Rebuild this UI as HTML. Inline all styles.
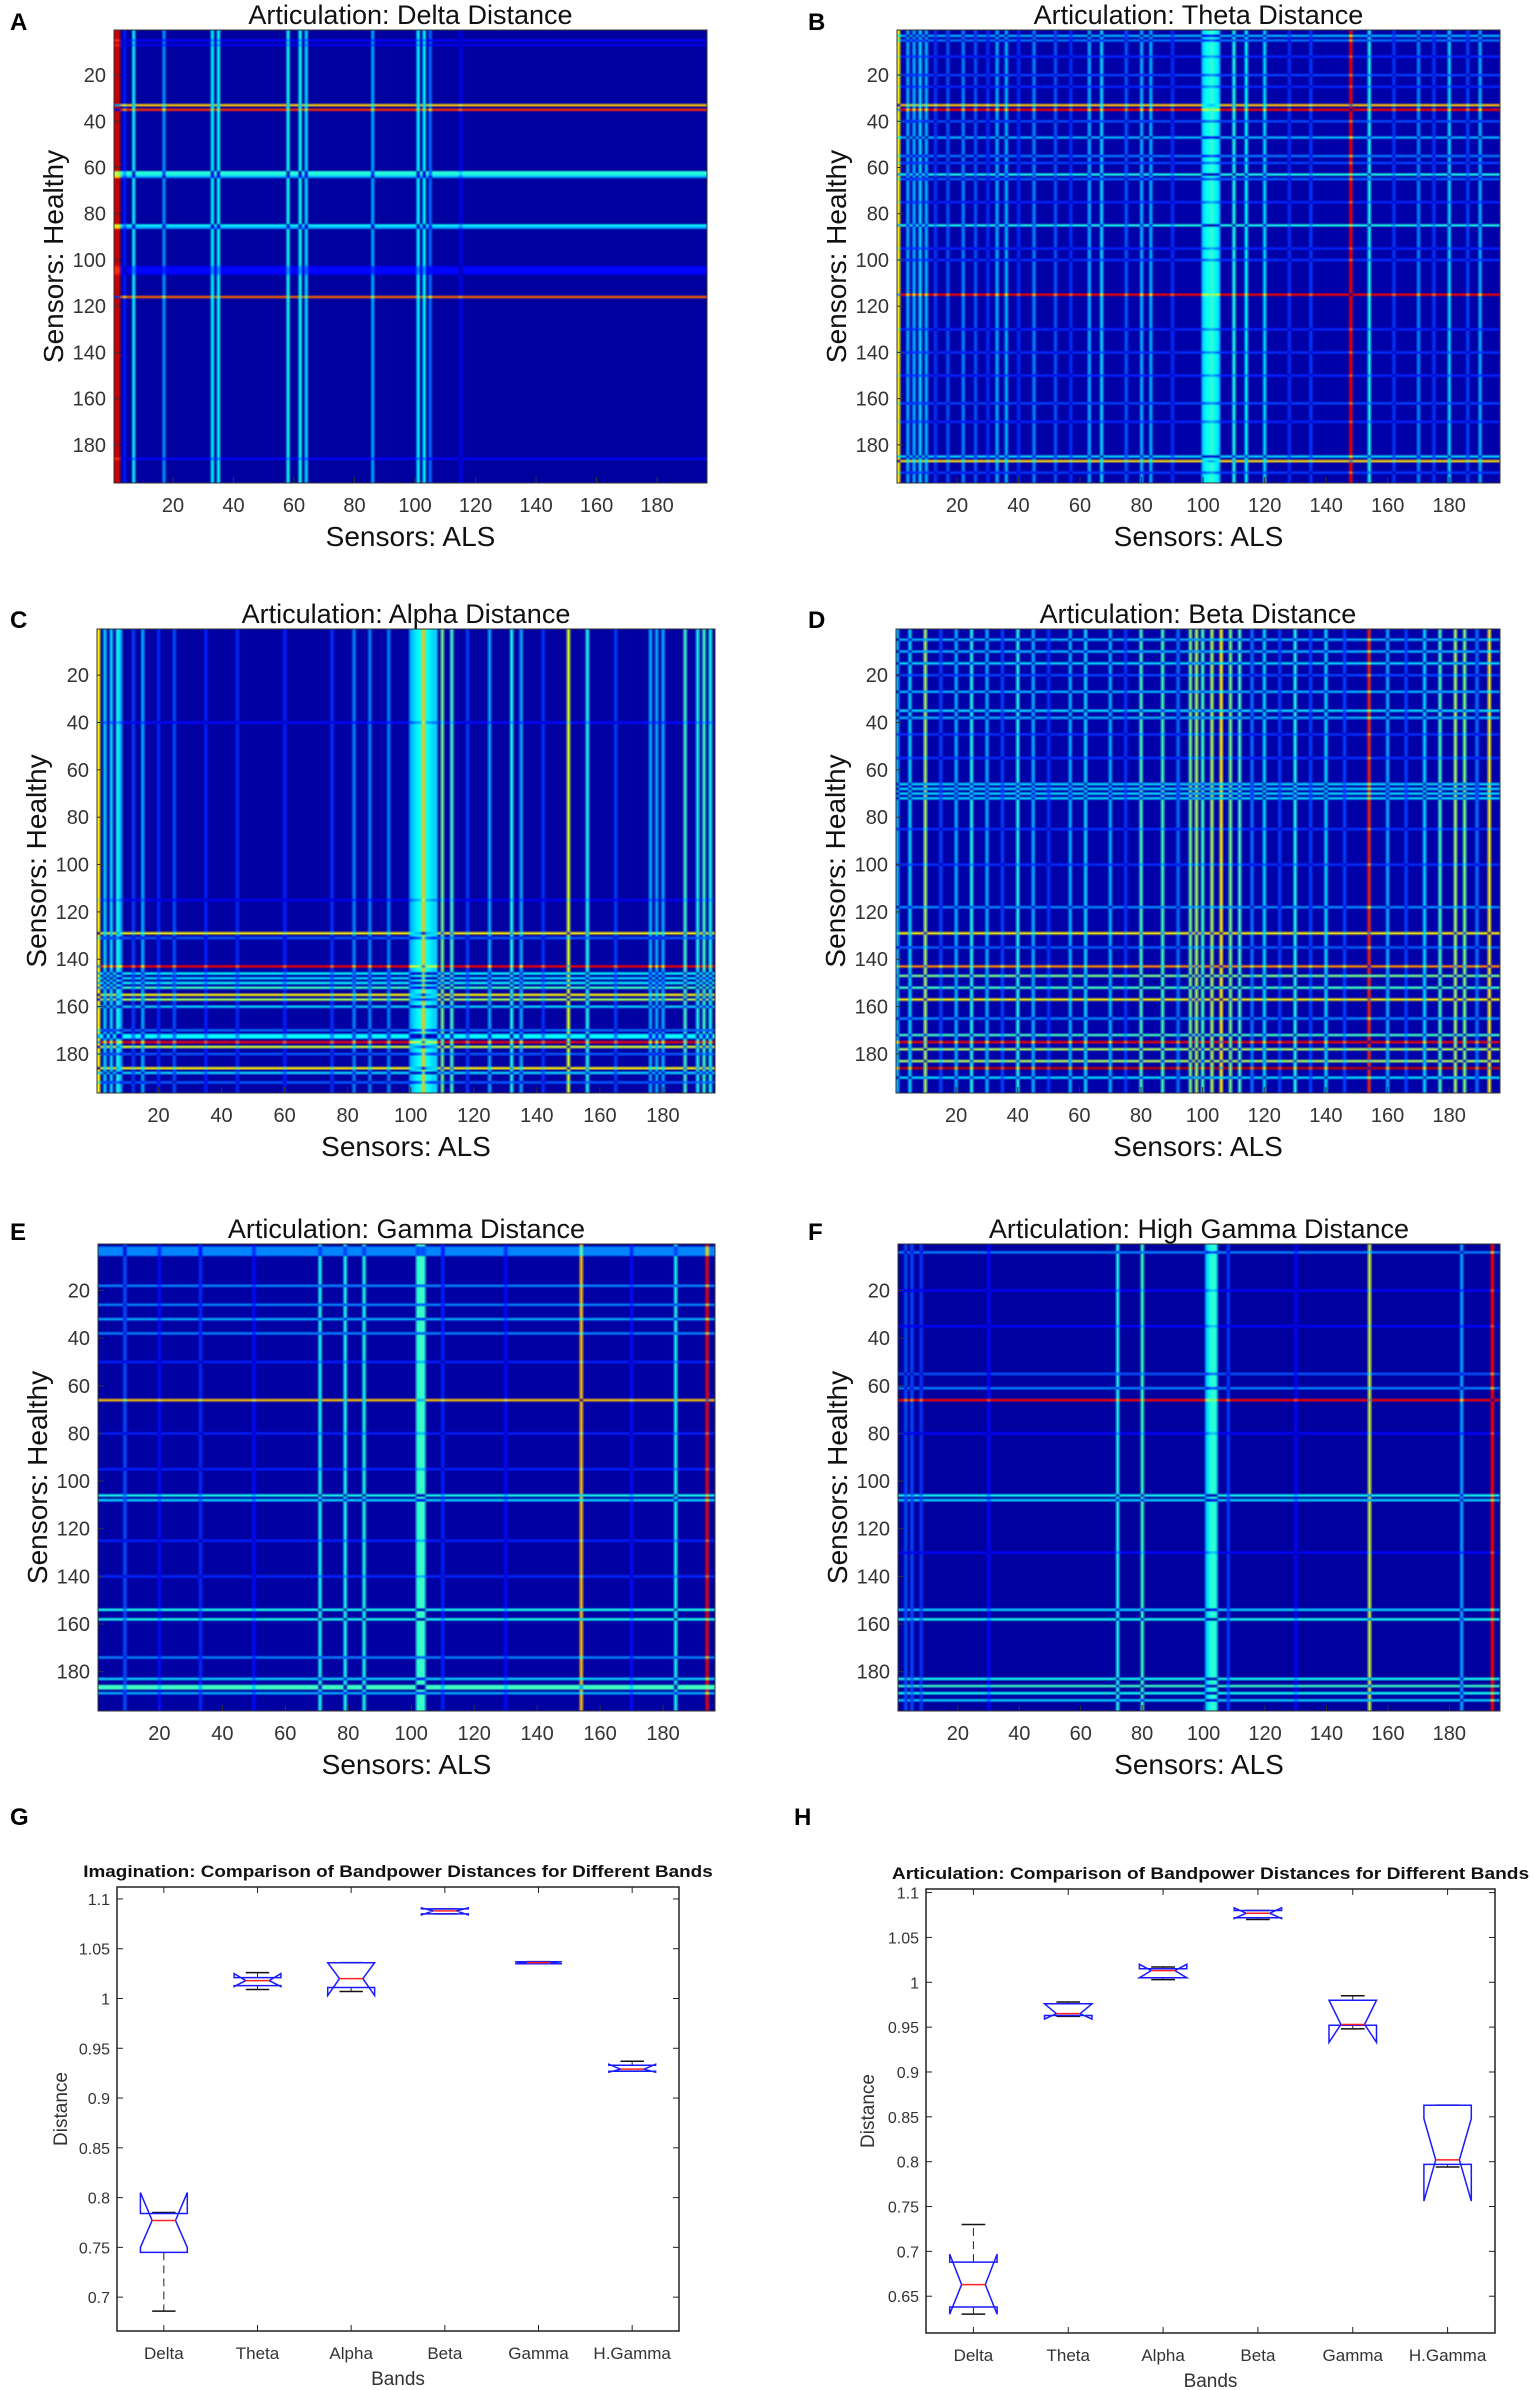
<!DOCTYPE html>
<html><head><meta charset="utf-8">
<style>
html,body{margin:0;padding:0;background:#fff;}
#wrap{position:relative;width:1535px;height:2390px;overflow:hidden;font-family:"Liberation Sans",Arial,sans-serif;}
canvas{position:absolute;}
svg{position:absolute;left:0;top:0;}
</style></head>
<body>
<div id="wrap">
<svg id="svg" width="1535" height="2390"></svg>
</div>
<script>
// ---------- heatmap data (sensor index, distance contribution) ----------
const heatTitles = ["Articulation: Delta Distance","Articulation: Theta Distance","Articulation: Alpha Distance","Articulation: Beta Distance","Articulation: Gamma Distance","Articulation: High Gamma Distance"];
const heatLetters = ["A","B","C","D","E","F"];
const heatBase = [0.03,0.04,0.035,0.04,0.035,0.03];
const deltaRows = [[5,0.1],[7,0.08],[33,0.65],[35,0.8],[62,0.38],[63,0.38],[64,0.26],[85,0.34],[86,0.26],[103,0.08],[104,0.1],[105,0.1],[106,0.08],[116,0.75],[186,0.1]];
const deltaCols = [[1,0.9],[2,0.9],[4,0.12],[7,0.34],[17,0.24],[33,0.34],[35,0.34],[58,0.36],[62,0.36],[64,0.3],[86,0.26],[101,0.34],[103,0.34],[105,0.2],[115,0.08]];
const thetaRows = [[3,0.26],[5,0.2],[12,0.12],[20,0.15],[25,0.12],[33,0.65],[35,0.85],[40,0.16],[47,0.26],[55,0.2],[58,0.15],[63,0.36],[65,0.18],[75,0.12],[85,0.36],[95,0.12],[100,0.13],[115,0.85],[130,0.12],[140,0.13],[150,0.12],[162,0.15],[170,0.12],[185,0.3],[187,0.62],[192,0.14]];
const thetaCols = [[1,0.6],[4,0.26],[6,0.26],[8,0.3],[10,0.26],[13,0.14],[17,0.17],[22,0.22],[26,0.17],[30,0.13],[33,0.26],[36,0.26],[40,0.13],[45,0.22],[52,0.17],[57,0.13],[63,0.26],[67,0.3],[75,0.17],[80,0.26],[83,0.26],[90,0.13],[100,0.3],[101,0.33],[102,0.36],[103,0.38],[104,0.33],[105,0.3],[110,0.36],[114,0.33],[120,0.3],[128,0.13],[135,0.14],[148,0.85],[154,0.35],[162,0.14],[170,0.22],[175,0.14],[180,0.3],[186,0.15],[190,0.26]];
const alphaRows = [[40,0.1],[115,0.08],[129,0.6],[131,0.18],[143,0.85],[146,0.34],[148,0.3],[150,0.34],[152,0.4],[155,0.6],[157,0.5],[160,0.3],[170,0.2],[172,0.34],[173,0.34],[175,0.85],[177,0.55],[180,0.18],[186,0.6],[188,0.3],[192,0.18]];
const alphaCols = [[1,0.6],[3,0.3],[5,0.3],[7,0.36],[8,0.26],[12,0.15],[15,0.26],[20,0.13],[25,0.17],[35,0.12],[45,0.13],[60,0.12],[75,0.14],[82,0.22],[87,0.22],[93,0.22],[100,0.26],[101,0.3],[102,0.33],[103,0.36],[104,0.65],[105,0.36],[106,0.33],[107,0.3],[108,0.3],[110,0.45],[113,0.4],[118,0.15],[125,0.26],[132,0.36],[135,0.26],[142,0.14],[150,0.55],[156,0.36],[165,0.15],[176,0.26],[178,0.26],[180,0.26],[187,0.4],[191,0.36],[193,0.4],[195,0.36]];
const betaRows = [[5,0.26],[10,0.26],[15,0.3],[20,0.15],[27,0.26],[35,0.3],[38,0.26],[45,0.13],[55,0.13],[66,0.3],[68,0.3],[70,0.3],[72,0.3],[85,0.13],[100,0.13],[118,0.22],[129,0.6],[135,0.18],[143,0.7],[147,0.45],[152,0.4],[157,0.6],[165,0.22],[172,0.4],[175,0.85],[178,0.5],[183,0.5],[186,0.9],[190,0.3]];
const betaCols = [[1,0.26],[5,0.3],[10,0.5],[15,0.15],[20,0.26],[25,0.36],[30,0.26],[35,0.15],[40,0.36],[45,0.26],[50,0.14],[57,0.26],[62,0.3],[70,0.26],[75,0.14],[80,0.4],[87,0.4],[92,0.2],[96,0.45],[98,0.5],[100,0.4],[103,0.5],[106,0.6],[109,0.45],[112,0.4],[116,0.2],[120,0.3],[125,0.15],[130,0.36],[135,0.15],[140,0.3],[146,0.15],[154,0.8],[160,0.26],[166,0.15],[172,0.3],[177,0.4],[182,0.5],[185,0.45],[189,0.2],[193,0.6]];
const gammaRows = [[2,0.22],[3,0.22],[4,0.22],[5,0.22],[18,0.22],[26,0.22],[32,0.26],[38,0.22],[50,0.12],[66,0.65],[80,0.12],[95,0.12],[106,0.36],[108,0.3],[125,0.12],[140,0.13],[154,0.36],[158,0.36],[174,0.22],[183,0.3],[186,0.4],[187,0.4],[189,0.26]];
const gammaCols = [[9,0.17],[20,0.1],[33,0.13],[50,0.1],[71,0.36],[79,0.36],[85,0.36],[102,0.38],[103,0.4],[104,0.38],[110,0.12],[130,0.1],[154,0.65],[170,0.1],[184,0.36],[194,0.85]];
const hgammaRows = [[4,0.22],[20,0.1],[35,0.1],[55,0.18],[61,0.22],[66,0.85],[80,0.1],[106,0.36],[108,0.3],[130,0.1],[154,0.3],[158,0.36],[183,0.36],[186,0.4],[189,0.36],[192,0.3]];
const hgammaCols = [[3,0.17],[5,0.17],[8,0.15],[30,0.1],[72,0.36],[80,0.4],[101,0.3],[102,0.36],[103,0.4],[104,0.36],[108,0.15],[130,0.1],[154,0.55],[184,0.26],[194,0.85]];
const heatRowSets = [deltaRows,thetaRows,alphaRows,betaRows,gammaRows,hgammaRows];
const heatColSets = [deltaCols,thetaCols,alphaCols,betaCols,gammaCols,hgammaCols];
const sensorTicks = [20,40,60,80,100,120,140,160,180];

// ---------- boxplot data ----------
const bandNames = ["Delta","Theta","Alpha","Beta","Gamma","H.Gamma"];
const imgQ1  = [0.745,1.013,1.011,1.085,1.035,0.927];
const imgQ3  = [0.784,1.021,1.036,1.090,1.037,0.933];
const imgMed = [0.777,1.018,1.020,1.088,1.036,0.929];
const imgNlo = [0.750,1.012,1.003,1.084,1.035,0.926];
const imgNhi = [0.805,1.025,1.036,1.091,1.037,0.934];
const imgWlo = [0.686,1.009,1.007,1.085,1.035,0.927];
const imgWhi = [0.785,1.026,1.036,1.090,1.037,0.937];
const artQ1  = [0.638,0.963,1.005,1.072,0.952,0.797];
const artQ3  = [0.688,0.976,1.015,1.080,0.980,0.863];
const artMed = [0.663,0.965,1.013,1.077,0.953,0.802];
const artNlo = [0.630,0.959,1.005,1.071,0.933,0.756];
const artNhi = [0.697,0.976,1.020,1.083,0.980,0.848];
const artWlo = [0.630,0.962,1.003,1.070,0.948,0.794];
const artWhi = [0.730,0.978,1.017,1.080,0.985,0.863];
const imgTicks = [0.7,0.75,0.8,0.85,0.9,0.95,1,1.05,1.1];
const artTicks = [0.65,0.7,0.75,0.8,0.85,0.9,0.95,1,1.05,1.1];

const NS="http://www.w3.org/2000/svg";
const svg=document.getElementById('svg');
const wrap=document.getElementById('wrap');
function mk(tag,attrs,parent){const e=document.createElementNS(NS,tag);for(const k in attrs)e.setAttribute(k,attrs[k]);(parent||svg).appendChild(e);return e;}
function txt(s,attrs,parent){const e=mk('text',attrs,parent);e.textContent=s;return e;}
function jet(v){v=Math.max(0,Math.min(1,v));const c=x=>Math.round(255*Math.max(0,Math.min(1,x)));return [c(1.5-Math.abs(4*v-3)),c(1.5-Math.abs(4*v-2)),c(1.5-Math.abs(4*v-1))];}

const heatRects=[[114,30,593,453],[897,30,603,453],[97,629,618,464],[896,629,604,464],[98,1244,617,467],[898,1244,602,467]];
const letterPos=[[10,30],[808,30],[10,628],[808,628],[10,1240],[808,1240]];
const N=196;
for(let p=0;p<6;p++){
  const [L,T,W,H]=heatRects[p];
  const h=new Array(N+1).fill(0), a=new Array(N+1).fill(0);
  heatRowSets[p].forEach(([i,v])=>{h[i]=v;});
  heatColSets[p].forEach(([j,v])=>{a[j]=v;});
  const cv=document.createElement('canvas');cv.width=N;cv.height=N;
  cv.style.left=L+'px';cv.style.top=T+'px';cv.style.width=W+'px';cv.style.height=H+'px';
  
  
  wrap.insertBefore(cv,svg);
  const ctx=cv.getContext('2d');const img=ctx.createImageData(N,N);
  for(let i=1;i<=N;i++)for(let j=1;j<=N;j++){
    const v=heatBase[p]+Math.abs(h[i]-a[j]);const c=jet(v);const k=((i-1)*N+(j-1))*4;
    img.data[k]=c[0];img.data[k+1]=c[1];img.data[k+2]=c[2];img.data[k+3]=255;}
  ctx.putImageData(img,0,0);
  const g=mk('g',{});
  
  
  mk('rect',{x:L,y:T,width:W,height:H,fill:'none',stroke:'#333','stroke-width':1},g);
  const xs=v=>L+(v-0.5)/N*W, ys=v=>T+(v-0.5)/N*H;
  sensorTicks.forEach(t=>{
    mk('line',{x1:xs(t),x2:xs(t),y1:T+H,y2:T+H-6,stroke:'#333'},g);
    mk('line',{x1:L,x2:L+6,y1:ys(t),y2:ys(t),stroke:'#333'},g);
    const tx=txt(String(t),{x:xs(t),y:T+H+29,'font-size':20,'text-anchor':'middle',fill:'#333'},g);
    
    
    const ty=txt(String(t),{x:L-8,y:ys(t)+7,'font-size':20,'text-anchor':'end',fill:'#333'},g);
    
    
  });
  const tt=txt(heatTitles[p],{x:L+W/2,y:T-6,'font-size':27,'text-anchor':'middle',fill:'#111'},g);
  
  
  const xl=txt('Sensors: ALS',{x:L+W/2,y:T+H+63,'font-size':28,'text-anchor':'middle',fill:'#111'},g);
  
  
  const cy=T+H/2, cx=L-61;
  const yl=txt('Sensors: Healthy',{x:cx,y:cy+10,'font-size':28,'text-anchor':'middle',fill:'#111',transform:`rotate(-90 ${cx} ${cy})`},g);
  
  
  const lt=txt(heatLetters[p],{x:letterPos[p][0],y:letterPos[p][1],'font-size':24,'font-weight':'bold',fill:'#000'},g);
  
  
}

function boxPanel(cfg){
  const {L,T,W,H,ymin,ymax,ticks,title,letter,lx,q1,q3,med,nlo,nhi,wlo,whi}=cfg;
  const g=mk('g',{});
  
  
  const ys=v=>T+(ymax-v)/(ymax-ymin)*H, xs=i=>L+(i+0.5)*W/bandNames.length;
  mk('rect',{x:L,y:T,width:W,height:H,fill:'#fff',stroke:'#222','stroke-width':1.5},g);
  ticks.forEach(t=>{
    mk('line',{x1:L,x2:L+6,y1:ys(t),y2:ys(t),stroke:'#222'},g);
    mk('line',{x1:L+W,x2:L+W-6,y1:ys(t),y2:ys(t),stroke:'#222'},g);
    const e=txt(String(t),{x:L-7,y:ys(t)+6,'font-size':16,'text-anchor':'end',fill:'#333'},g);
    
    
  });
  const hw=W/bandNames.length*0.25, iw=hw*0.5;
  bandNames.forEach((b,i)=>{
    const x=xs(i);
    mk('line',{x1:x,x2:x,y1:T+H,y2:T+H-6,stroke:'#222'},g);
    mk('line',{x1:x,x2:x,y1:T,y2:T+6,stroke:'#222'},g);
    const e=txt(b,{x:x,y:T+H+28,'font-size':17,'text-anchor':'middle',fill:'#333'},g);
    
    
    const bg=mk('g',{},g);
    
    
    mk('line',{x1:x,x2:x,y1:ys(q3[i]),y2:ys(whi[i]),stroke:'#222','stroke-dasharray':'8,5'},bg);
    mk('line',{x1:x,x2:x,y1:ys(q1[i]),y2:ys(wlo[i]),stroke:'#222','stroke-dasharray':'8,5'},bg);
    mk('line',{x1:x-iw,x2:x+iw,y1:ys(whi[i]),y2:ys(whi[i]),stroke:'#111','stroke-width':1.5},bg);
    mk('line',{x1:x-iw,x2:x+iw,y1:ys(wlo[i]),y2:ys(wlo[i]),stroke:'#111','stroke-width':1.5},bg);
    const pts=[[x-hw,q1[i]],[x-hw,nlo[i]],[x-iw,med[i]],[x-hw,nhi[i]],[x-hw,q3[i]],[x+hw,q3[i]],[x+hw,nhi[i]],[x+iw,med[i]],[x+hw,nlo[i]],[x+hw,q1[i]]];
    mk('polygon',{points:pts.map(p=>p[0].toFixed(1)+','+ys(p[1]).toFixed(1)).join(' '),fill:'none',stroke:'#1a1aff','stroke-width':1.5},bg);
    mk('line',{x1:x-iw,x2:x+iw,y1:ys(med[i]),y2:ys(med[i]),stroke:'#ff2020','stroke-width':1.5},bg);
  });
  const t=txt(title,{x:L+W/2,y:T-10,'font-size':17,'font-weight':'bold','text-anchor':'middle',fill:'#111',textLength:W*1.12,lengthAdjust:'spacingAndGlyphs'},g);
  
  
  const xl=txt('Bands',{x:L+W/2,y:T+H+54,'font-size':19,'text-anchor':'middle',fill:'#333'},g);
  
  
  const cy=T+H/2;
  const yl=txt('Distance',{x:lx,y:cy+7,'font-size':19,'text-anchor':'middle',fill:'#333',transform:`rotate(-90 ${lx} ${cy})`},g);
  
  
  const lt=txt(letter,{x:cfg.letX,y:1825,'font-size':24,'font-weight':'bold',fill:'#000'},g);
  
  
}
boxPanel({L:117,T:1887,W:562,H:444,ymin:0.666,ymax:1.112,ticks:imgTicks,title:'Imagination: Comparison of Bandpower Distances for Different Bands',letter:'G',letX:10,lx:60,q1:imgQ1,q3:imgQ3,med:imgMed,nlo:imgNlo,nhi:imgNhi,wlo:imgWlo,whi:imgWhi});
boxPanel({L:926,T:1889,W:569,H:444,ymin:0.609,ymax:1.104,ticks:artTicks,title:'Articulation: Comparison of Bandpower Distances for Different Bands',letter:'H',letX:794,lx:867,q1:artQ1,q3:artQ3,med:artMed,nlo:artNlo,nhi:artNhi,wlo:artWlo,whi:artWhi});
</script>
</body></html>
